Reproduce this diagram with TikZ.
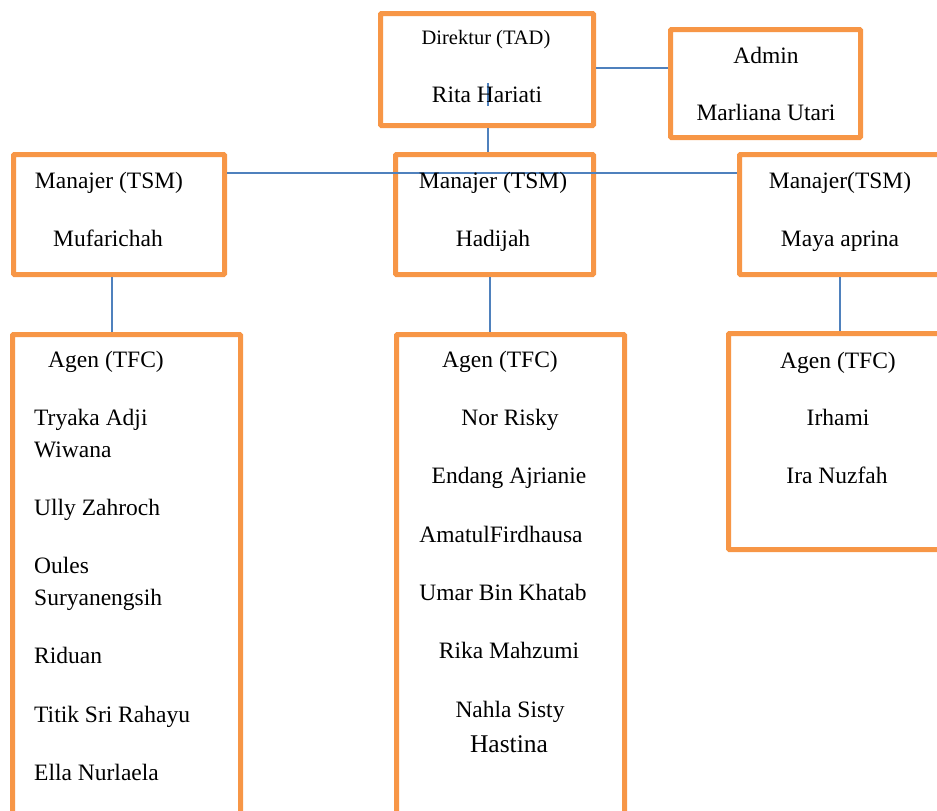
\documentclass[tikz,border=0pt]{standalone}
\usepackage{fontspec}
\setmainfont{Liberation Serif}
\definecolor{boxorange}{HTML}{F79646}
\definecolor{lineblue}{HTML}{4F81BD}
\begin{document}
\begin{tikzpicture}[x=1pt,y=-1pt,
  obox/.style={draw=boxorange,line width=5pt,rounded corners=1pt,fill=white,inner sep=0pt},
  conn/.style={draw=lineblue,line width=1.6pt},
  txt/.style={inner sep=0pt,anchor=base,font=\fontsize{23.5}{28}\selectfont},
  ltxt/.style={txt,anchor=base west},
  stxt/.style={txt,font=\fontsize{20.5}{24}\selectfont}]
\useasboundingbox (0,0) rectangle (937,811);
\clip (0,0) rectangle (937,811);
% boxes
\node[obox,minimum width=213pt,minimum height=112pt] (dir) at (487,69.5) {};
\node[obox,minimum width=190pt,minimum height=108pt] (adm) at (765.5,83.5) {};
\node[obox,minimum width=211pt,minimum height=120pt] (lm) at (119,214.5) {};
\node[obox,minimum width=198pt,minimum height=120pt] (mm) at (494.5,214.5) {};
\node[obox,minimum width=220pt,minimum height=120pt] (rm) at (849.5,214.5) {};
\node[obox,minimum width=228pt,minimum height=495pt] (la) at (126.5,582) {};
\node[obox,minimum width=228pt,minimum height=495pt] (ma) at (510.5,582) {};
\node[obox,minimum width=231pt,minimum height=216pt] (ra) at (844,441.5) {};
% connectors
\draw[conn] ([yshift=1.5pt]dir.east) -- ([yshift=1.5pt]dir.east -| adm.west);
\draw[conn] ([xshift=1pt]dir.south) -- ([xshift=1pt]dir.south |- mm.north);
\draw[conn] ([yshift=-21pt]lm.north east) -- ([yshift=-21pt]rm.north west);
\draw[conn] ([xshift=-7pt]lm.south) -- ([xshift=-7pt]lm.south |- la.north);
\draw[conn] ([xshift=-4.5pt]mm.south) -- ([xshift=-4.5pt]mm.south |- ma.north);
\draw[conn] ([xshift=-9.5pt]rm.south) -- ([xshift=-9.5pt]rm.south |- ra.north);
\draw[conn,line width=1.2pt] ([xshift=1pt,yshift=-13.5pt]dir.center) coordinate (tk1) -- ([xshift=1pt,yshift=-36.5pt]dir.center) coordinate (tk2);
% texts
\node[stxt] (t1) at (486,44) {Direktur (TAD)};
\node[txt] (t2) at (487,102) {Rita Hariati};
\node[txt] (t3) at (766,63) {Admin};
\node[txt] (t4) at (766,120) {Marliana Utari};
\node[txt] (t5) at (109,188) {Manajer (TSM)};
\node[txt] (t6) at (108,246) {Mufarichah};
\node[txt] (t7) at (493,188) {Manajer (TSM)};
\node[txt] (t8) at (493,246) {Hadijah};
\node[txt] (t9) at (840,188) {Manajer(TSM)};
\node[txt] (t10) at (840,246) {Maya aprina};
\node[txt] (a1) at (106,367) {Agen (TFC)};
\node[ltxt] (a2) at (34,425) {Tryaka Adji};
\node[ltxt] (a3) at (34,457) {Wiwana};
\node[ltxt] (a4) at (34,515) {Ully Zahroch};
\node[ltxt] (a5) at (34,573) {Oules};
\node[ltxt] (a6) at (34,605) {Suryanengsih};
\node[ltxt] (a7) at (34,663) {Riduan};
\node[ltxt] (a8) at (34,722) {Titik Sri Rahayu};
\node[ltxt] (a9) at (34,780) {Ella Nurlaela};
\node[txt] (b1) at (500,367) {Agen (TFC)};
\node[txt] (b2) at (510,425) {Nor Risky};
\node[txt] (b3) at (509,483) {Endang Ajrianie};
\node[txt] (b4) at (501,542) {AmatulFirdhausa};
\node[txt] (b5) at (503,600) {Umar Bin Khatab};
\node[txt] (b6) at (509,658) {Rika Mahzumi};
\node[txt] (b7) at (510,717) {Nahla Sisty};
\node[txt,font=\fontsize{25.5}{30}\selectfont] (b8) at (509,752) {Hastina};
\node[txt] (c1) at (838,368) {Agen (TFC)};
\node[txt] (c2) at (838,425) {Irhami};
\node[txt] (c3) at (837,483) {Ira Nuzfah};
\end{tikzpicture}
\end{document}
